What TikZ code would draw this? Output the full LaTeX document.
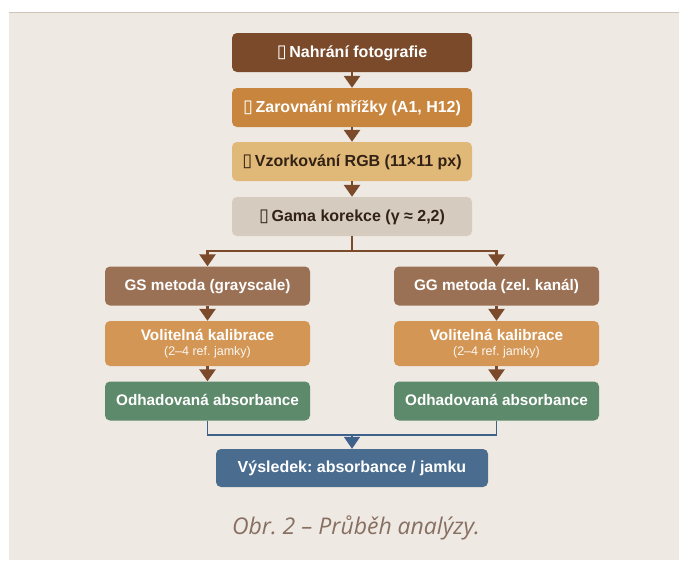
\documentclass[tikz,border=0pt]{standalone}
\usepackage{fontspec}
\setmainfont{Liberation Sans}
\newfontfamily\capfont{Open Sans}
\newfontfamily\symfont{DejaVu Sans}
\usetikzlibrary{arrows.meta}
\frenchspacing
\definecolor{panel}{RGB}{239,233,227}
\definecolor{panelline}{RGB}{208,196,186}
\definecolor{cA}{RGB}{122,74,42}
\definecolor{cB}{RGB}{200,133,62}
\definecolor{cC}{RGB}{224,184,120}
\definecolor{cD}{RGB}{214,203,191}
\definecolor{cGS}{RGB}{155,113,85}
\definecolor{cVol}{RGB}{211,150,85}
\definecolor{cOdh}{RGB}{94,138,108}
\definecolor{cRes}{RGB}{74,108,143}
\definecolor{darktext}{RGB}{50,34,22}
\definecolor{captext}{RGB}{135,112,98}
\definecolor{arrbrown}{RGB}{122,74,42}
\definecolor{arrblue}{RGB}{62,98,140}
\newcommand{\tofu}{{\symfont\fontsize{18}{18}\selectfont ▯}\,}
\tikzset{
  box/.style={rounded corners=5pt, inner sep=0pt, minimum height=39pt, align=center,
    font=\bfseries\fontsize{16}{18}\selectfont, text depth=2pt},
  topbox/.style={box, minimum width=240pt},
  sidebox/.style={box, minimum width=205pt, font=\bfseries\fontsize{15.3}{17}\selectfont},
  arr/.style={draw=arrbrown, line width=2.8pt, -{Triangle[width=16pt,length=12pt]}},
  brline/.style={draw=arrbrown, line width=2.4pt},
  blline/.style={draw=arrblue, line width=1.8pt},
  blarr/.style={draw=arrblue, line width=1.8pt, -{Triangle[width=16pt,length=12pt]}},
}
\begin{document}
\begin{tikzpicture}[x=1pt,y=-1pt]
\useasboundingbox (0,0) rectangle (679,560);
\fill[white] (0,0) rectangle (679,560);
\fill[panel] (9,12) rectangle (679,560);
\draw[panelline, line width=1.2pt] (9,12.5) -- (679,12.5);

\node[topbox, fill=cA, text=white] (b1) at (352,52.5) {\tofu Nahrání fotografie};
\node[topbox, fill=cB, text=white] (b2) at (352,107.5) {\tofu Zarovnání mřížky (A1, H12)};
\node[topbox, fill=cC, text=darktext] (b3) at (352,161.5) {\tofu Vzorkování RGB (11×11 px)};
\node[topbox, fill=cD, text=darktext] (b4) at (352,216.5) {\tofu Gama korekce (γ ≈ 2,2)};

\node[sidebox, fill=cGS, text=white] (gsL) at (207.5,286) {GS metoda (grayscale)};
\node[sidebox, fill=cVol, text=white, minimum height=45pt, text depth=] (volL) at (207.5,343.5)
  {Volitelná kalibrace\\[-2pt]{\mdseries\fontsize{12.5}{14}\selectfont\color{white!92!cVol}(2–4 ref. jamky)}};
\node[sidebox, fill=cOdh, text=white] (odhL) at (207.5,401) {Odhadovaná absorbance};

\node[sidebox, fill=cGS, text=white] (gsR) at (496.5,286) {GG metoda (zel. kanál)};
\node[sidebox, fill=cVol, text=white, minimum height=45pt, text depth=] (volR) at (496.5,343.5)
  {Volitelná kalibrace\\[-2pt]{\mdseries\fontsize{12.5}{14}\selectfont\color{white!92!cVol}(2–4 ref. jamky)}};
\node[sidebox, fill=cOdh, text=white] (odhR) at (496.5,401) {Odhadovaná absorbance};

\node[box, minimum width=272pt, minimum height=38pt, fill=cRes, text=white,
  font=\bfseries\fontsize{16}{18}\selectfont] (res) at (352,468) {Výsledek: absorbance / jamku};

\node[text=captext, font=\capfont\itshape\fontsize{23}{26}\selectfont] (cap) at (356,528) {Obr. 2 – Průběh analýzy.};

\draw[arr] (b1.south) -- (b2.north);
\draw[arr] (b2.south) -- (b3.north);
\draw[arr] (b3.south) -- (b4.north);

\coordinate (split) at (352,251);
\draw[brline] (b4.south) -- (split);
\draw[arr] (split) -| (gsL.north);
\draw[arr] (split) -| (gsR.north);

\draw[arr] (gsL.south) -- (volL.north);
\draw[arr] (volL.south) -- (odhL.north);
\draw[arr] (gsR.south) -- (volR.north);
\draw[arr] (volR.south) -- (odhR.north);

\coordinate (join) at (352,435);
\draw[blline] (odhL.south) |- (join);
\draw[blline] (odhR.south) |- (join);
\draw[blarr] (join) -- (res.north);
\end{tikzpicture}
\end{document}
